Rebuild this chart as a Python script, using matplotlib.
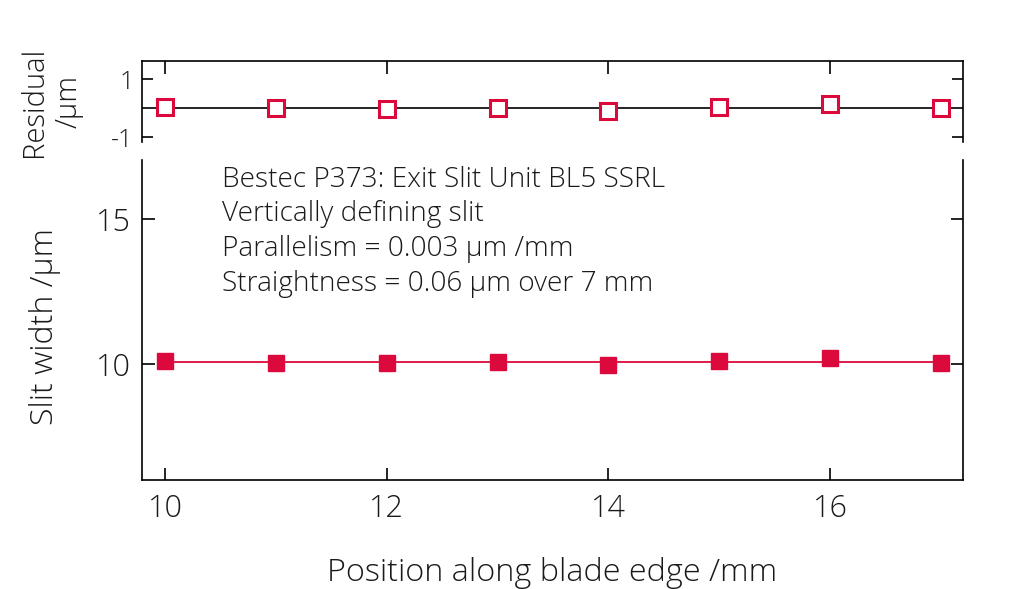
import matplotlib
matplotlib.use("Agg")
import matplotlib.pyplot as plt
import numpy as np

positions = [10, 11, 12, 13, 14, 15, 16, 17]
slit_width = [10.11, 10.05, 10.03, 10.07, 9.97, 10.11, 10.20, 10.05]
fit_level = 10.06
residuals = [0.05, -0.01, -0.035, 0.01, -0.09, 0.05, 0.14, -0.01]
x_ticks = [10, 12, 14, 16]
annotation = ["Bestec P373: Exit Slit Unit BL5 SSRL",
              "Vertically defining slit",
              "Parallelism = 0.003 µm /mm",
              "Straightness = 0.06 µm over 7 mm"]

RED = "#DC0A3C"
TXT = "#1a1a1a"
plt.rcParams['font.family'] = ['Open Sans', 'DejaVu Sans']
plt.rcParams['font.weight'] = 'light'
plt.rcParams['axes.labelweight'] = 'light'

fig = plt.figure(figsize=(10.24, 5.89), dpi=100)
ax_r = fig.add_axes([0.1387, 0.759, 0.8017, 0.1374])
ax = fig.add_axes([0.1387, 0.185, 0.8017, 0.5434])

# residual panel
ax_r.axhline(0, color="black", lw=1.2, zorder=1)
ax_r.plot(positions, residuals, ls="none", marker="s", ms=11.5, mfc="white",
          mec=RED, mew=2.2, zorder=3)
ax_r.set_xlim(9.79, 17.2)
ax_r.set_ylim(-1.17, 1.62)
ax_r.set_yticks([-1, 1])
ax_r.set_yticklabels(["-1", "1"])
ax_r.set_xticks(x_ticks)
ax_r.tick_params(axis="y", direction="in", length=8, width=1.2, labelsize=18,
                 left=True, right=True, pad=6, labelcolor=TXT)
ax_r.tick_params(axis="x", direction="in", length=9, width=1.2, top=True,
                 bottom=False, labelbottom=False)
ax_r.spines["bottom"].set_visible(False)
for s in ["top", "left", "right"]:
    ax_r.spines[s].set_linewidth(1.2)
ax_r.set_ylabel("Residual\n/µm", fontsize=21, linespacing=1.25, color=TXT, va="center")
ax_r.yaxis.set_label_coords(-0.11, 0.5)

# main panel
ax.plot([positions[0], positions[-1]], [fit_level, fit_level], color=RED, lw=1.3, zorder=2)
ax.plot(positions, slit_width, ls="none", marker="s", ms=12, mfc=RED, mec=RED, zorder=3)
ax.set_xlim(9.79, 17.2)
ax.set_ylim(6.0, 17.05)
ax.set_xticks(x_ticks)
ax.set_yticks([10, 15])
ax.tick_params(axis="both", direction="in", length=9, width=1.2, labelsize=22, labelcolor=TXT)
ax.tick_params(axis="y", left=True, right=True, pad=8)
ax.tick_params(axis="x", pad=9)
ax.spines["top"].set_visible(False)
for s in ["bottom", "left", "right"]:
    ax.spines[s].set_linewidth(1.2)
ax.set_ylabel("Slit width /µm", fontsize=23, color=TXT, va="center")
ax.yaxis.set_label_coords(-0.118, 0.481)
ax.set_xlabel("Position along blade edge /mm", fontsize=23.3, color=TXT, va="center")
ax.xaxis.set_label_coords(0.5, -0.29)

for i, line in enumerate(annotation):
    ax.text(0.097, 0.938 - i * 0.108, line, transform=ax.transAxes,
            fontsize=20.2, va="center", ha="left", color=TXT)

fig.savefig("out.png", dpi=100)
